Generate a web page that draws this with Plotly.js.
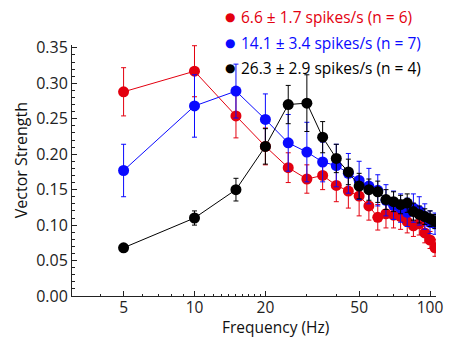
<!DOCTYPE html>
<html>
<head>
<meta charset="utf-8">
<script src="https://cdn.plot.ly/plotly-3.0.1.min.js"></script>
<style>html,body{margin:0;padding:0;background:#fff;}#chart{width:453px;height:338px;}</style>
</head>
<body>
<div id="chart"></div>
<script>
// Frequencies (Hz)
const freq = [5,10,15,20,25,30,35,40,45,50,55,60,65,70,75,80,85,90,95,100,105];

// Series 1: 6.6 ± 1.7 spikes/s (n = 6)
const redVS  = [0.288,0.317,0.254,0.211,0.181,0.165,0.170,0.156,0.148,0.141,0.127,0.111,0.116,0.114,0.112,0.105,0.099,0.102,0.089,0.079,0.068];
const redErr = [0.034,0.036,0.031,0.026,0.021,0.020,0.020,0.023,0.024,0.028,0.020,0.018,0.020,0.018,0.018,0.016,0.015,0.016,0.014,0.012,0.012];

// Series 2: 14.1 ± 3.4 spikes/s (n = 7)
const blueVS  = [0.177,0.268,0.289,0.249,0.216,0.203,0.189,0.184,0.173,0.163,0.155,0.149,0.135,0.128,0.124,0.118,0.124,0.120,0.112,0.104,0.102];
const blueErr = [0.037,0.044,0.038,0.036,0.040,0.042,0.028,0.030,0.028,0.027,0.025,0.022,0.022,0.020,0.020,0.020,0.020,0.020,0.018,0.016,0.015];

// Series 3: 26.3 ± 2.9 spikes/s (n = 4)
const blackVS  = [0.068,0.110,0.150,0.211,0.270,0.272,0.224,0.194,0.175,0.155,0.150,0.147,0.136,0.133,0.129,0.131,0.119,0.115,0.112,0.109,0.105];
const blackErr = [0.004,0.010,0.016,0.025,0.027,0.040,0.022,0.020,0.018,0.018,0.015,0.015,0.014,0.014,0.013,0.013,0.012,0.012,0.011,0.011,0.010];

const seriesNames = ["6.6 ± 1.7 spikes/s (n = 6)", "14.1 ± 3.4 spikes/s (n = 7)", "26.3 ± 2.9 spikes/s (n = 4)"];
const seriesColors = ["#e3000f", "#0a0aff", "#000000"];

const xTickVals = [5,10,20,50,100];
const xTickText = ["5","10","20","50","100"];
const xMinorVals = [3,4,6,7,8,9,11,12,13,14,15,16,17,18,19,30,40,60,70,80,90];

const FONT = "Open Sans, Noto Sans, sans-serif";

const ys = [redVS, blueVS, blackVS];
const es = [redErr, blueErr, blackErr];

const traces = [];
for (let i = 0; i < 3; i++) {
  traces.push({
    x: freq, y: ys[i], type: "scatter", mode: "lines",
    line: {color: seriesColors[i], width: 1},
    showlegend: false, hoverinfo: "skip"
  });
  traces.push({
    x: freq, y: ys[i], type: "scatter", mode: "markers",
    marker: {color: seriesColors[i], size: 11, line: {width: 0}},
    error_y: {type: "data", array: es[i], visible: true, color: seriesColors[i], thickness: 1, width: 2.5},
    showlegend: false, name: seriesNames[i]
  });
}

const annotations = [];
const legendY = [1.113, 1.009, 0.907];
for (let i = 0; i < 3; i++) {
  annotations.push({
    xref: "paper", yref: "paper", x: 0.433, y: legendY[i], xanchor: "center", yanchor: "middle",
    text: "●", showarrow: false, font: {family: "DejaVu Sans", size: 12, color: seriesColors[i]}
  });
  annotations.push({
    xref: "paper", yref: "paper", x: 0.458, y: legendY[i], xanchor: "left", yanchor: "middle",
    text: seriesNames[i], showarrow: false, font: {family: FONT, size: 15.5, color: seriesColors[i]}
  });
}
annotations.push({
  xref: "paper", yref: "paper", x: 0.559, y: -0.123, xanchor: "center", yanchor: "middle",
  text: "Frequency (Hz)", showarrow: false, font: {family: FONT, size: 15.5, color: "#111"}
});
annotations.push({
  xref: "paper", yref: "paper", x: -0.138, y: 0.54, xanchor: "center", yanchor: "middle",
  text: "Vector Strength", textangle: -90, showarrow: false, font: {family: FONT, size: 16, color: "#111"}
});

const layout = {
  width: 453, height: 338,
  margin: {l: 72, r: 17, t: 45, b: 42},
  paper_bgcolor: "#fff", plot_bgcolor: "#fff",
  font: {family: FONT, size: 16, color: "#222"},
  showlegend: false,
  xaxis: {
    type: "log", range: [Math.log10(3.02), Math.log10(106)],
    showgrid: false, zeroline: false, showline: true, linecolor: "#222", linewidth: 1,
    ticks: "inside", ticklen: 5, tickcolor: "#222", tickwidth: 1,
    tickmode: "array", tickvals: xTickVals, ticktext: xTickText,
    ticklabelstandoff: -3,
    tickfont: {family: FONT, size: 15.5, color: "#222"},
    minor: {ticks: "inside", ticklen: 2.5, tickcolor: "#222", tickmode: "array", tickvals: xMinorVals, showgrid: false}
  },
  yaxis: {
    range: [0, 0.354],
    showgrid: false, zeroline: false, showline: true, linecolor: "#222", linewidth: 1,
    ticks: "inside", ticklen: 5, tickcolor: "#222", tickwidth: 1,
    tickmode: "linear", tick0: 0, dtick: 0.05, tickformat: ".2f",
    tickfont: {family: FONT, size: 16, color: "#222"},
    minor: {ticks: "inside", ticklen: 2.5, tickcolor: "#222", dtick: 0.01, showgrid: false}
  },
  annotations: annotations
};

Plotly.newPlot("chart", traces, layout, {displayModeBar: false, staticPlot: true});
</script>
</body>
</html>
